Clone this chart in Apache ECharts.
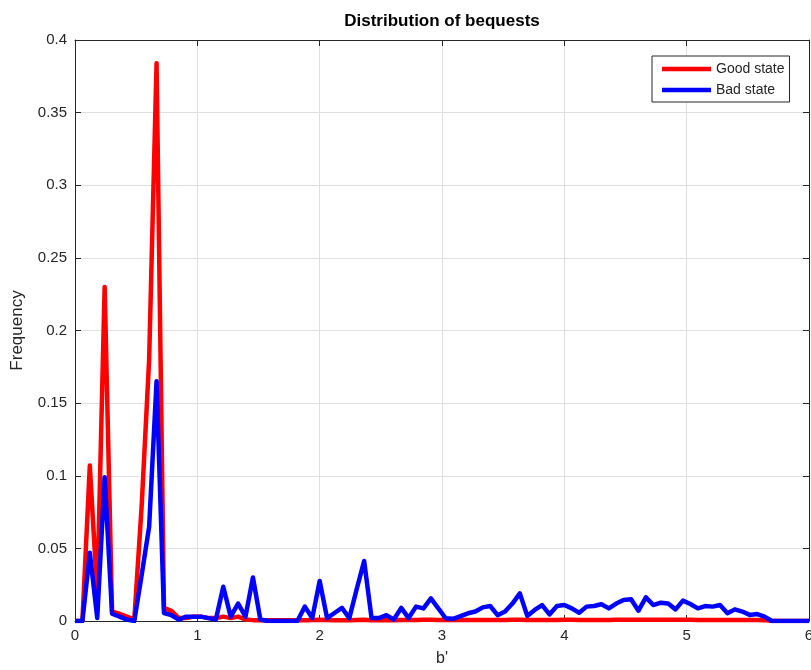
<!DOCTYPE html>
<html>
<head>
<meta charset="utf-8">
<script src="https://cdn.jsdelivr.net/npm/echarts@6/dist/echarts.min.js"></script>
<style>html,body{margin:0;padding:0;background:#fff;}#chart{width:811px;height:670px;}</style>
</head>
<body>
<div id="chart"></div>
<script>
const bequestGrid = [0, 0.0606, 0.1212, 0.1818, 0.2424, 0.3030, 0.3636, 0.4242, 0.4848, 0.5455,
  0.6061, 0.6667, 0.7273, 0.7879, 0.8485, 0.9091, 0.9697, 1.0303, 1.0909, 1.1515,
  1.2121, 1.2727, 1.3333, 1.3939, 1.4545, 1.5152, 1.5758, 1.6364, 1.6970, 1.7576,
  1.8182, 1.8788, 1.9394, 2.0000, 2.0606, 2.1212, 2.1818, 2.2424, 2.3030, 2.3636,
  2.4242, 2.4848, 2.5455, 2.6061, 2.6667, 2.7273, 2.7879, 2.8485, 2.9091, 2.9697,
  3.0303, 3.0909, 3.1515, 3.2121, 3.2727, 3.3333, 3.3939, 3.4545, 3.5152, 3.5758,
  3.6364, 3.6970, 3.7576, 3.8182, 3.8788, 3.9394, 4.0000, 4.0606, 4.1212, 4.1818,
  4.2424, 4.3030, 4.3636, 4.4242, 4.4848, 4.5455, 4.6061, 4.6667, 4.7273, 4.7879,
  4.8485, 4.9091, 4.9697, 5.0303, 5.0909, 5.1515, 5.2121, 5.2727, 5.3333, 5.3939,
  5.4545, 5.5152, 5.5758, 5.6364, 5.6970, 5.7576, 5.8182, 5.8788, 5.9394, 6.0000];

const goodState = [0, 0, 0.107, 0.018, 0.230, 0.0065, 0.005, 0.003, 0.001, 0.08,
  0.18, 0.384, 0.009, 0.007, 0.002, 0.002, 0.003, 0.003, 0.002, 0.002,
  0.003, 0.002, 0.003, 0.001, 0.0006, 0.0005, 0.0005, 0.0005, 0.0005, 0.0005,
  0.0006, 0.0006, 0.0007, 0.0008, 0.0007, 0.0006, 0.0006, 0.0006, 0.0007, 0.0008,
  0.0006, 0.0006, 0.0006, 0.0006, 0.0007, 0.0007, 0.0007, 0.0008, 0.0008, 0.0007,
  0.0007, 0.0007, 0.0007, 0.0007, 0.0007, 0.0007, 0.0007, 0.0007, 0.0007, 0.0008,
  0.0008, 0.0007, 0.0007, 0.0007, 0.0007, 0.0007, 0.0008, 0.0008, 0.0007, 0.0007,
  0.0007, 0.0007, 0.0007, 0.0008, 0.0008, 0.0008, 0.0008, 0.0008, 0.0008, 0.0008,
  0.0008, 0.0008, 0.0008, 0.0008, 0.0007, 0.0007, 0.0007, 0.0007, 0.0007, 0.0007,
  0.0007, 0.0007, 0.0007, 0.0006, 0, 0, 0, 0, 0, 0];

const badState = [0, 0, 0.047, 0.002, 0.099, 0.005, 0.003, 0.001, 0, 0.032,
  0.065, 0.165, 0.0055, 0.004, 0.001, 0.003, 0.003, 0.003, 0.002, 0.001,
  0.0236, 0.003, 0.012, 0.003, 0.030, 0.001, 0, 0, 0, 0,
  0, 0.0099, 0.002, 0.0275, 0.002, 0.0055, 0.009, 0.002, 0.022, 0.0413,
  0.002, 0.002, 0.004, 0.001, 0.009, 0.002, 0.0099, 0.0087, 0.0156, 0.0087,
  0.0019, 0.0015, 0.0034, 0.0053, 0.0065, 0.0094, 0.0103, 0.004, 0.0065, 0.012,
  0.019, 0.0035, 0.0076, 0.011, 0.0045, 0.0103, 0.011, 0.0087, 0.0057, 0.0099,
  0.0103, 0.0115, 0.0087, 0.012, 0.0145, 0.015, 0.0071, 0.0163, 0.011, 0.0126,
  0.012, 0.008, 0.014, 0.0117, 0.0087, 0.0103, 0.0099, 0.011, 0.0053, 0.008,
  0.0065, 0.0042, 0.0048, 0.003, 0, 0, 0, 0, 0, 0];

const seriesNames = ['Good state', 'Bad state'];
const chartTitle = 'Distribution of bequests';
const xName = "b'";
const yName = 'Frequency';

const FONT = 'Liberation Sans, Arial, sans-serif';
const AX = '#262626';

const chart = echarts.init(document.getElementById('chart'), null, {renderer: 'canvas'});
const zip = (xs, ys) => xs.map((x, i) => [x, ys[i]]);

const baseX = {
  type: 'value', min: 0, max: 6, interval: 1,
  axisLine: {show: true, onZero: false, lineStyle: {color: AX, width: 1}},
  axisTick: {show: true, inside: true, length: 6, lineStyle: {color: AX}}
};
const baseY = {
  type: 'value', min: 0, max: 0.4, interval: 0.05,
  axisLine: {show: true, onZero: false, lineStyle: {color: AX, width: 1}},
  axisTick: {show: true, inside: true, length: 6, lineStyle: {color: AX}}
};

chart.setOption({
  animation: false,
  backgroundColor: '#fff',
  title: {
    text: chartTitle, left: 442, top: 13, textAlign: 'center', padding: 0,
    textStyle: {fontFamily: FONT, fontSize: 17, fontWeight: 'bold', color: '#000'}
  },
  legend: {
    data: seriesNames, orient: 'vertical', left: 652, top: 56,
    padding: [6, 5, 5, 10], itemGap: 7, itemWidth: 49, itemHeight: 14,
    icon: 'path://M0,0 L49,0 L49,4.5 L0,4.5 Z',
    borderColor: AX, borderWidth: 1, backgroundColor: '#fff',
    textStyle: {fontFamily: FONT, fontSize: 14, color: AX}
  },
  grid: {left: 75, right: 2, top: 40, bottom: 49, containLabel: false, outerBoundsMode: 'none'},
  xAxis: [
    Object.assign({}, baseX, {
      position: 'bottom', name: xName, nameLocation: 'middle', nameGap: 30,
      nameTextStyle: {fontFamily: FONT, fontSize: 16, color: AX},
      axisLabel: {fontFamily: FONT, fontSize: 15, color: AX, margin: 7},
      splitLine: {show: true, lineStyle: {color: '#dfdfdf', width: 1}}
    }),
    Object.assign({}, baseX, {
      position: 'top', axisLabel: {show: false}, splitLine: {show: false}
    })
  ],
  yAxis: [
    Object.assign({}, baseY, {
      position: 'left', name: yName, nameLocation: 'middle', nameGap: 49,
      nameTextStyle: {fontFamily: FONT, fontSize: 17, color: AX},
      axisLabel: {fontFamily: FONT, fontSize: 15, color: AX, margin: 8,
        formatter: v => String(parseFloat(v.toFixed(2)))},
      splitLine: {show: true, lineStyle: {color: '#dfdfdf', width: 1}}
    }),
    Object.assign({}, baseY, {
      position: 'right', axisLabel: {show: false}, splitLine: {show: false}
    })
  ],
  series: [
    {
      name: seriesNames[0], type: 'line', data: zip(bequestGrid, goodState),
      showSymbol: false, symbol: 'none', color: '#ff0000',
      lineStyle: {color: '#ff0000', width: 4.5, join: 'round'}, z: 3
    },
    {
      name: seriesNames[1], type: 'line', data: zip(bequestGrid, badState),
      showSymbol: false, symbol: 'none', color: '#0000ff',
      lineStyle: {color: '#0000ff', width: 4.5, join: 'round'}, z: 4
    }
  ]
});
</script>
</body>
</html>
